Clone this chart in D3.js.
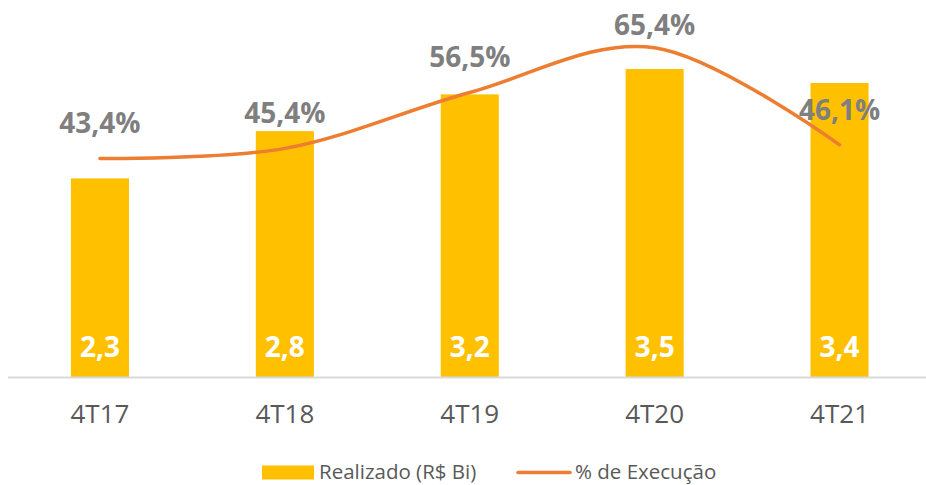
<!DOCTYPE html>
<html>
<head>
<meta charset="utf-8">
<script src="https://cdn.jsdelivr.net/npm/d3@7"></script>
<style>
  body { margin: 0; background: #fff; }
  text { font-family: "Open Sans", sans-serif; }
</style>
</head>
<body>
<div id="chart"></div>
<script>
const categories = ["4T17", "4T18", "4T19", "4T20", "4T21"];
const realizado = [2.27, 2.81, 3.23, 3.52, 3.36];
const execucao = [0.434, 0.454, 0.565, 0.654, 0.461];

const width = 926;
const height = 485;
const baseline = 377;

const fmt = (v, d) => v.toFixed(d).replace(".", ",");

const svg = d3.select("#chart")
    .append("svg")
    .attr("width", width)
    .attr("height", height);

const x = d3.scaleBand()
    .domain(categories)
    .range([7.5, 932])
    .paddingInner(0.686)
    .paddingOuter(0.343);

const y = d3.scaleLinear().domain([0, 4]).range([baseline, 27]);
const y2 = d3.scaleLinear().domain([0, 0.7]).range([baseline, 24.5]);

// bars
svg.selectAll("rect.bar")
    .data(realizado)
    .enter()
    .append("rect")
    .attr("class", "bar")
    .attr("x", (d, i) => x(categories[i]))
    .attr("y", d => y(d))
    .attr("width", x.bandwidth())
    .attr("height", d => baseline - y(d))
    .attr("fill", "#FFC000");

// axis line
svg.append("line")
    .attr("x1", 8).attr("x2", width)
    .attr("y1", baseline + 0.5).attr("y2", baseline + 0.5)
    .attr("stroke", "#D9D9D9")
    .attr("stroke-width", 2);

// x labels
svg.selectAll("text.xlab")
    .data(categories)
    .enter()
    .append("text")
    .attr("class", "xlab")
    .attr("x", d => x(d) + x.bandwidth() / 2)
    .attr("y", 423)
    .attr("text-anchor", "middle")
    .attr("font-size", 26)
    .attr("fill", "#595959")
    .text(d => d);

// bar value labels
svg.selectAll("text.bval")
    .data(realizado)
    .enter()
    .append("text")
    .attr("class", "bval")
    .attr("x", (d, i) => x(categories[i]) + x.bandwidth() / 2)
    .attr("y", 357)
    .attr("text-anchor", "middle")
    .attr("font-size", 28)
    .attr("font-weight", "bold")
    .attr("fill", "#fff")
    .text(d => fmt(d, 1));

// line
const line = d3.line()
    .x((d, i) => x(categories[i]) + x.bandwidth() / 2)
    .y(d => y2(d))
    .curve(d3.curveCatmullRom.alpha(0));

svg.append("path")
    .datum(execucao)
    .attr("d", line)
    .attr("fill", "none")
    .attr("stroke", "#ED7D31")
    .attr("stroke-width", 3.5)
    .attr("stroke-linecap", "round");

// line labels
svg.selectAll("text.lval")
    .data(execucao)
    .enter()
    .append("text")
    .attr("class", "lval")
    .attr("x", (d, i) => x(categories[i]) + x.bandwidth() / 2)
    .attr("y", d => Math.max(y2(d) - 25, 35))
    .attr("text-anchor", "middle")
    .attr("font-size", 28)
    .attr("font-weight", "bold")
    .attr("fill", "#7F7F7F")
    .text(d => fmt(d * 100, 1) + "%");

// legend
const legend = svg.append("g").attr("font-size", 20.5).attr("fill", "#595959");
legend.append("rect")
    .attr("x", 262).attr("y", 465.5)
    .attr("width", 52).attr("height", 14)
    .attr("fill", "#FFC000");
legend.append("text")
    .attr("x", 319).attr("y", 479)
    .text("Realizado (R$ Bi)");
legend.append("line")
    .attr("x1", 518).attr("x2", 570)
    .attr("y1", 472.5).attr("y2", 472.5)
    .attr("stroke", "#ED7D31")
    .attr("stroke-width", 3.5)
    .attr("stroke-linecap", "round");
legend.append("text")
    .attr("x", 575).attr("y", 479)
    .text("% de Execução");
</script>
</body>
</html>
